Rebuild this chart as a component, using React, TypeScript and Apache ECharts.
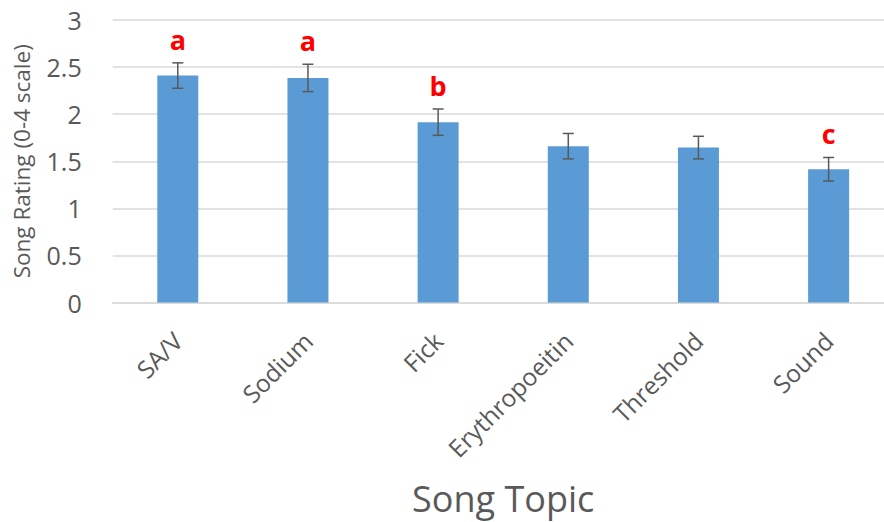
import React, { useEffect, useRef } from "react";
import * as echarts from "echarts";

const categories = ["SA/V", "Sodium", "Fick", "Erythropoeitin", "Threshold", "Sound"];
const means = [2.41, 2.385, 1.915, 1.66, 1.645, 1.415];
const errors = [0.135, 0.145, 0.14, 0.135, 0.12, 0.125];
const letters = ["a", "a", "b", "", "", "c"];
const yTicks = [0, 0.5, 1, 1.5, 2, 2.5, 3];

export default function App() {
  const ref = useRef<HTMLDivElement>(null);
  useEffect(() => {
    if (!ref.current) return;
    const chart = echarts.init(ref.current, null, { renderer: "svg" });
    const font = "'Open Sans', sans-serif";
    const gray = "#595959";
    chart.setOption({
      animation: false,
      grid: { left: 112.7, width: 781, top: 20, bottom: 219.5, outerBoundsMode: "none" },
      xAxis: {
        type: "category",
        data: categories,
        axisLine: { show: true, lineStyle: { color: "#D9D9D9", width: 1.5 } },
        axisTick: { show: false },
        axisLabel: { rotate: 45, fontSize: 24.5, color: gray, fontFamily: font, margin: 34, interval: 0 },
        name: "Song Topic",
        nameLocation: "middle",
        nameGap: 178,
        nameTextStyle: { fontSize: 36, color: gray, fontFamily: font },
      },
      yAxis: {
        type: "value",
        min: yTicks[0],
        max: yTicks[yTicks.length - 1],
        interval: 0.5,
        axisLine: { show: false },
        axisTick: { show: false },
        splitLine: { lineStyle: { color: "#D9D9D9", width: 1.5 } },
        axisLabel: { fontSize: 25, color: gray, fontFamily: font, margin: 31 },
        name: "Song Rating (0-4 scale)",
        nameLocation: "middle",
        nameGap: 80,
        nameTextStyle: { fontSize: 22.5, color: gray, fontFamily: font },
      },
      series: [
        {
          type: "bar",
          data: means,
          barWidth: 41,
          itemStyle: { color: "#5B9BD5" },
        },
        {
          type: "custom",
          data: means.map((m, i) => [i, m - errors[i], m + errors[i]]),
          z: 10,
          renderItem: (params: any, api: any) => {
            const i = api.value(0);
            const top = api.coord([i, api.value(2)]);
            const bot = api.coord([i, api.value(1)]);
            const w = 5.5;
            const style = { stroke: "#595959", lineWidth: 1.5 };
            const children: any[] = [
              { type: "line", shape: { x1: top[0], y1: top[1], x2: bot[0], y2: bot[1] }, style },
              { type: "line", shape: { x1: top[0] - w, y1: top[1], x2: top[0] + w, y2: top[1] }, style },
              { type: "line", shape: { x1: bot[0] - w, y1: bot[1], x2: bot[0] + w, y2: bot[1] }, style },
            ];
            const letter = letters[params.dataIndex];
            if (letter) {
              children.push({
                type: "text",
                x: top[0],
                y: top[1] - 10,
                style: {
                  text: letter,
                  fill: "#FF0000",
                  fontSize: 27,
                  fontWeight: "bold",
                  fontFamily: font,
                  align: "center",
                  verticalAlign: "bottom",
                },
              });
            }
            return { type: "group", children };
          },
        },
      ],
    });
    return () => chart.dispose();
  }, []);
  return (
    <div
      ref={ref}
      style={{ position: "fixed", left: 0, top: 0, width: 884, height: 522, background: "#fff" }}
    />
  );
}
